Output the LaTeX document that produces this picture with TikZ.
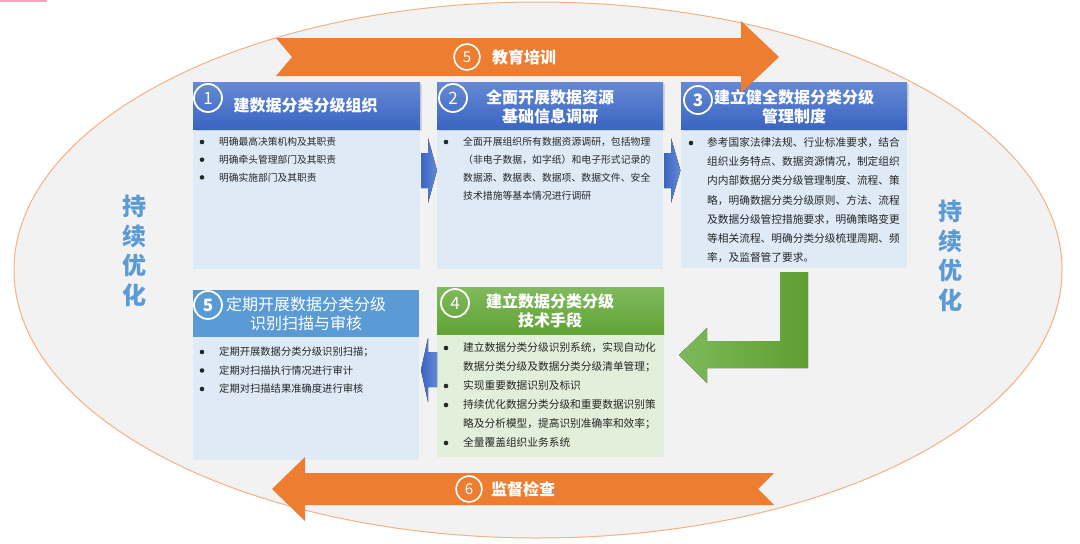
\documentclass[tikz,border=0pt]{standalone}
\usepackage{fontspec}
\setmainfont{Noto Sans CJK SC}
\definecolor{orng}{HTML}{ED7D31}
\definecolor{ellbd}{HTML}{F4B183}
\definecolor{ellbg}{HTML}{F2F2F2}
\definecolor{bluetop}{HTML}{6589D4}
\definecolor{bluebot}{HTML}{3A65C2}
\definecolor{blueflat}{HTML}{5B9BD5}
\definecolor{bluebody}{HTML}{DEEBF7}
\definecolor{greentop}{HTML}{80BA5C}
\definecolor{greenbot}{HTML}{62A236}
\definecolor{greenbody}{HTML}{E2EFDA}
\definecolor{greenL}{HTML}{7DB95A}
\definecolor{greenR}{HTML}{5E9E31}
\definecolor{txtc}{HTML}{262626}
\definecolor{sidec}{HTML}{5B9BD5}
\definecolor{pinkm}{HTML}{F4A7BB}
\newcommand{\fsz}[2]{\fontsize{#1}{#2}\selectfont}
\tikzset{
  hdrtitle/.style={text=white, font=\fsz{16}{19}\bfseries, align=center, inner sep=0pt},
  hdrtitlereg/.style={text=white, font=\fsz{16}{18.5}, align=center, inner sep=0pt},
  numc/.style={circle, draw=white, line width=1.8pt, minimum size=28pt, inner sep=0pt, text=white, font=\fsz{17}{17}},
  numcs/.style={circle, draw=white, line width=1.6pt, minimum size=26pt, inner sep=0pt, text=white, font=\fsz{15}{15}},
  ln/.style={anchor=west, inner sep=0pt, text=txtc, text height=9pt, text depth=1.5pt},
  bul/.style={fill=txtc},
  sidetxt/.style={text=sidec, font=\fsz{24}{29.5}\bfseries, align=center, inner sep=0pt},
  arrtxt/.style={text=white, font=\fsz{16}{16}\bfseries, anchor=west, inner sep=0pt},
  smallarrow/.style={left color=bluebot, right color=bluetop},
}
\begin{document}
\begin{tikzpicture}[x=1pt,y=-1pt]
\useasboundingbox (0,0) rectangle (1080,544);
\fill[white] (0,0) rectangle (1080,544);
\fill[pinkm] (0,0) rectangle (47,1.5);
% ellipse
\filldraw[fill=ellbg, draw=ellbd, line width=1pt] (538,270) ellipse [x radius=524pt, y radius=268pt];
% side texts
\node[sidetxt] (sideL) at (134.5,251) {持\\续\\优\\化};
\node[sidetxt] (sideR) at (950,256) {持\\续\\优\\化};
% ---------- box bodies ----------
\fill[bluebody] (193,129) rectangle (420,269);
\fill[bluebody] (437,129) rectangle (663,269);
\fill[bluebody] (681,129) rectangle (907,268);
\fill[bluebody] (193,337) rectangle (419,460);
\fill[greenbody] (437,334) rectangle (664,457);
% headers
\fill[black, opacity=0.12] (194.5,84) rectangle (421.5,131);
\fill[black, opacity=0.12] (438.5,84) rectangle (664.5,131);
\fill[black, opacity=0.12] (682.5,84) rectangle (908.5,131);
\fill[top color=bluetop, bottom color=bluebot] (193,82) rectangle (420,129);
\fill[top color=bluetop, bottom color=bluebot] (437,82) rectangle (663,129);
\fill[top color=bluetop, bottom color=bluebot] (681,82) rectangle (907,129);
\fill[blueflat] (193,290) rectangle (419,337);
\fill[top color=greentop, bottom color=greenbot] (437,287) rectangle (664,334);
% ---------- small blue arrows ----------
\fill[smallarrow] (421,153) -- (428,153) -- (428,138) -- (437,170.5) -- (428,203) -- (428,188) -- (421,188) -- cycle;
\fill[smallarrow] (664,153) -- (671,153) -- (671,138) -- (680.5,170.5) -- (671,203) -- (671,188) -- (664,188) -- cycle;
\fill[left color=bluebot, right color=bluetop] (437,352) -- (428,352) -- (428,338) -- (421,370) -- (428,402) -- (428,387) -- (437,387) -- cycle;
% ---------- green L arrow ----------
\fill[left color=greenL, right color=greenR] (679,355) -- (707,328) -- (707,341) -- (780,341) -- (780,272) -- (808,272) -- (808,368) -- (707,368) -- (707,383) -- cycle;
% ---------- orange arrows ----------
\fill[orng] (276,38) -- (741,38) -- (741,21) -- (779,57) -- (741,93) -- (741,76) -- (276,76) -- (292,57) -- cycle;
\fill[orng] (272,489) -- (305,457) -- (305,473) -- (774,473) -- (758,489) -- (774,505) -- (305,505) -- (305,521) -- cycle;
\node[numcs] (c5top) at (467,57) {5};
\node[arrtxt] (tEdu) at (492,57) {教育培训};
\node[numcs] (c6bot) at (469,489) {6};
\node[arrtxt] (tSup) at (491,489) {监督检查};
% ---------- header titles ----------
\node[numc] (n1) at (208,98) {1};
\node[hdrtitle] (h1) at (305.5,105) {建数据分类分级组织};
\node[numc] (n2) at (453,98) {2};
\node[hdrtitle] (h2) at (550,106.5) {全面开展数据资源\\基础信息调研};
\node[numc, font=\fsz{17}{17}\bfseries] (n3) at (698,100) {3};
\node[hdrtitle] (h3) at (794,106.5) {建立健全数据分类分级\\管理制度};
\node[numc, font=\fsz{17}{17}\bfseries] (n5) at (208,305) {5};
\node[hdrtitlereg] (h5) at (306,314) {定期开展数据分类分级\\识别扫描与审核};
\node[numc] (n4) at (455,303) {4};
\node[hdrtitle] (h4) at (550,311) {建立数据分类分级\\技术手段};
% ---------- body texts ----------
% box 1
\foreach \t [count=\i] in {明确最高决策机构及其职责, 明确牵头管理部门及其职责, 明确实施部门及其职责}{
  \node[ln, font=\fsz{9.75}{12}] (a\i) at (219,{142+17.7*(\i-1)}) {\t};
  \fill[bul] (202,{142+17.7*(\i-1)}) circle (2.3pt);
}
% box 2
\foreach \t [count=\i] in {全面开展组织所有数据资源调研，包括物理, （非电子数据，如字纸）和电子形式记录的, 数据源、数据表、数据项、数据文件、安全, 技术措施等基本情况进行调研}{
  \node[ln, font=\fsz{9.85}{12}] (b\i) at (463,{142+18*(\i-1)}) {\t};
}
\fill[bul] (446,142) circle (2.3pt);
% box 3
\foreach \t [count=\i] in {参考国家法律法规、行业标准要求，结合, 组织业务特点、数据资源情况，制定组织, 内内部数据分类分级管理制度、流程、策, 略，明确数据分类分级原则、方法、流程, 及数据分级管控措施要求，明确策略变更, 等相关流程、明确分类分级梳理周期、频, 率，及监督管了要求。}{
  \node[ln, font=\fsz{10.7}{12}] (c\i) at (707,{143+19.1*(\i-1)}) {\t};
}
\fill[bul] (691,143) circle (2.3pt);
% box 5
\foreach \t [count=\i] in {定期开展数据分类分级识别扫描；, 定期对扫描执行情况进行审计, 定期对扫描结果准确度进行审核}{
  \node[ln, font=\fsz{10.3}{12}] (e\i) at (219,{352+18.5*(\i-1)}) {\t};
  \fill[bul] (202,{352+18.5*(\i-1)}) circle (2.3pt);
}
% box 4
\foreach \t [count=\i] in {建立数据分类分级识别系统，实现自动化, 数据分类分级及数据分类分级清单管理；, 实现重要数据识别及标识, 持续优化数据分类分级和重要数据识别策, 略及分析模型，提高识别准确率和效率；, 全量覆盖组织业务系统}{
  \node[ln, font=\fsz{10.7}{12}] (d\i) at (463,{348+19*(\i-1)}) {\t};
}
\foreach \k in {0,2,3,5}{
  \fill[bul] (446,{348+19*\k}) circle (2.3pt);
}
\end{tikzpicture}
\end{document}
